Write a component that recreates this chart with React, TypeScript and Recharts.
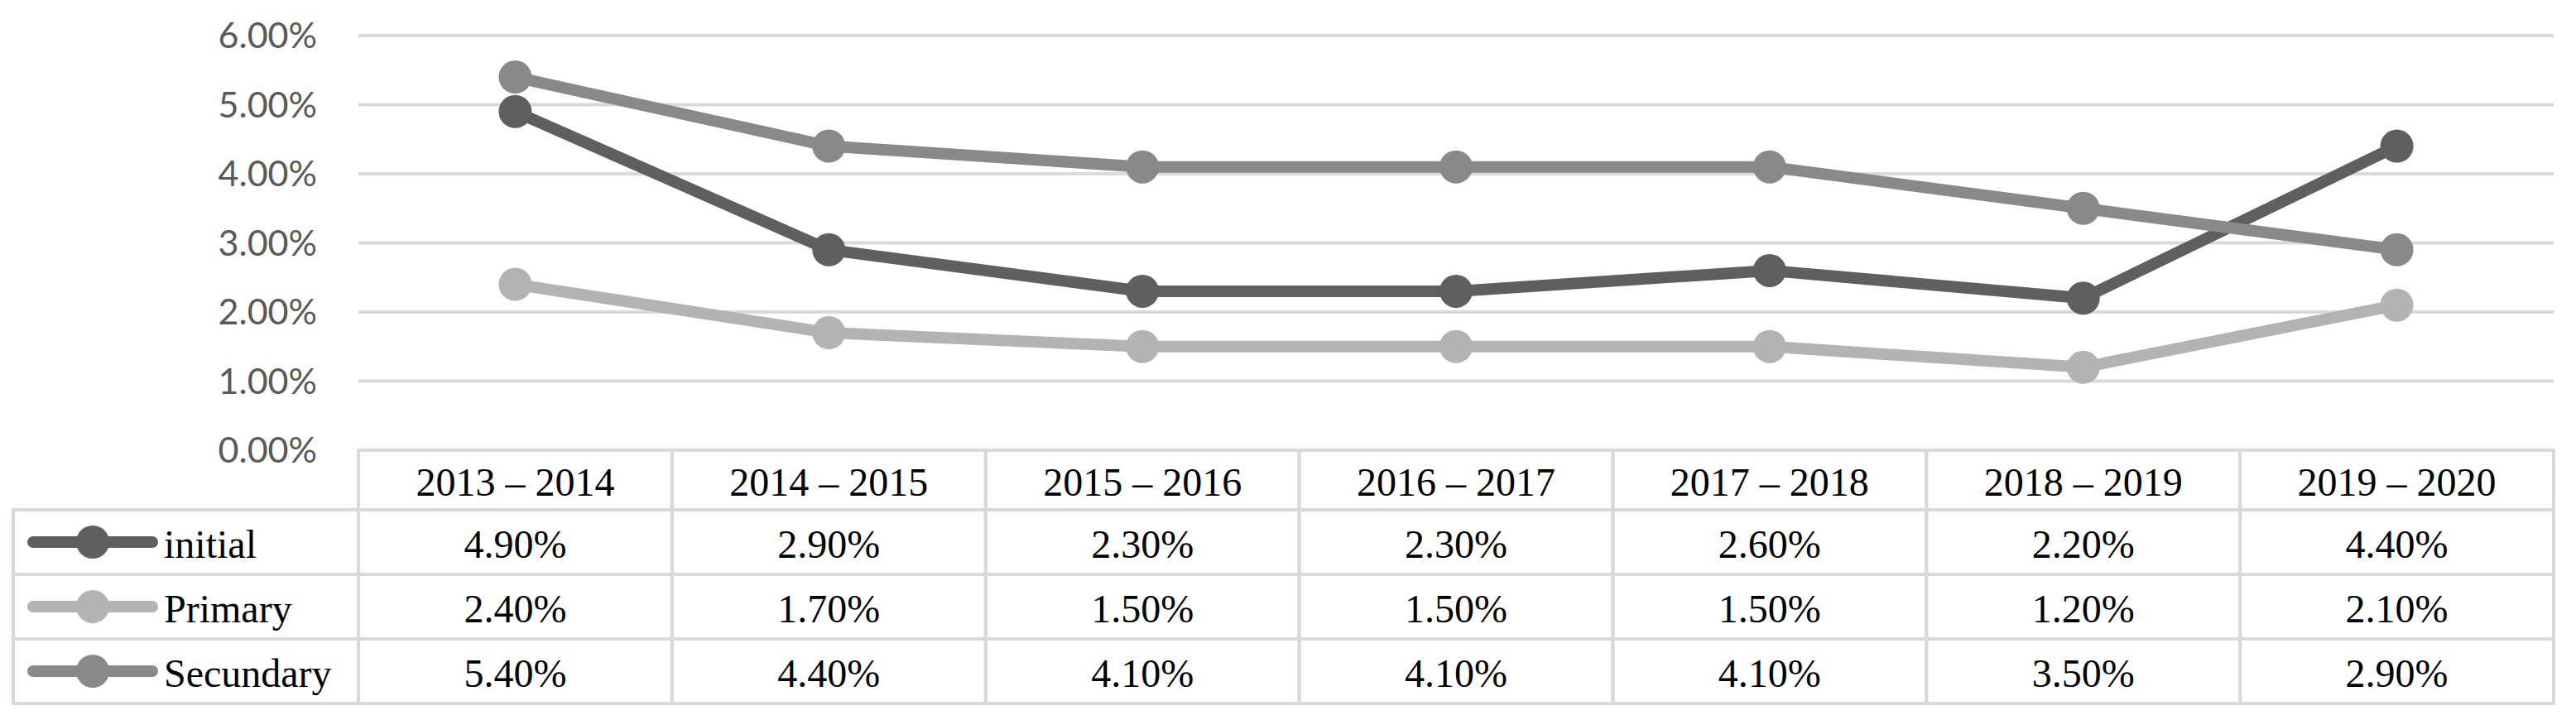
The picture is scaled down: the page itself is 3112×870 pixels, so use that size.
import { ComposedChart, Line, XAxis, YAxis, CartesianGrid } from 'recharts'

const periods = ['2013 – 2014', '2014 – 2015', '2015 – 2016', '2016 – 2017', '2017 – 2018', '2018 – 2019', '2019 – 2020']
const initialValues = [4.9, 2.9, 2.3, 2.3, 2.6, 2.2, 4.4]
const primaryValues = [2.4, 1.7, 1.5, 1.5, 1.5, 1.2, 2.1]
const secundaryValues = [5.4, 4.4, 4.1, 4.1, 4.1, 3.5, 2.9]
const yTicks = [0, 1, 2, 3, 4, 5, 6]

const series = [
  { key: 'initial', name: 'initial', color: '#5f5f5f', values: initialValues },
  { key: 'primary', name: 'Primary', color: '#b3b3b3', values: primaryValues },
  { key: 'secundary', name: 'Secundary', color: '#898989', values: secundaryValues },
]

const data = periods.map((period, i) => ({
  period,
  initial: initialValues[i],
  primary: primaryValues[i],
  secundary: secundaryValues[i],
}))

const W = 3112
const H = 870
const PLOT_LEFT = 433
const PLOT_RIGHT = 3085
const COL_W = (PLOT_RIGHT - PLOT_LEFT) / periods.length
const HEAD_H = 72
const ROW_H = 78
const LEGEND_LEFT = 16
const BORDER = '#d9d9d9'
const SERIF = '"Liberation Serif", "Times New Roman", serif'
const FONT_SIZE = 48
const LINE_W = 14
const DOT_R = 20

const fmt = (v: number) => `${v.toFixed(2)}%`

function HeaderTick({ x, y, payload }: any) {
  return (
    <g>
      <rect x={x - COL_W / 2} y={y} width={COL_W} height={HEAD_H} fill="none" stroke={BORDER} strokeWidth={4} />
      <text x={x} y={y + HEAD_H / 2 + 2} textAnchor="middle" dominantBaseline="central"
        fontFamily={SERIF} fontSize={FONT_SIZE} fill="#000">
        {payload.value}
      </text>
    </g>
  )
}

function makeRowTick(s: (typeof series)[number]) {
  return function RowTick({ x, y, payload }: any) {
    const cy = y + ROW_H / 2
    const legendW = x - COL_W / 2 - LEGEND_LEFT
    return (
      <g>
        {payload.index === 0 && (
          <g>
            <rect x={LEGEND_LEFT} y={y} width={legendW} height={ROW_H} fill="none" stroke={BORDER} strokeWidth={4} />
            <line x1={LEGEND_LEFT + 24} x2={LEGEND_LEFT + 168} y1={cy} y2={cy} stroke={s.color} strokeWidth={LINE_W} strokeLinecap="round" />
            <circle cx={LEGEND_LEFT + 96} cy={cy} r={DOT_R} fill={s.color} />
            <text x={LEGEND_LEFT + 182} y={cy + 2} dominantBaseline="central" fontFamily={SERIF} fontSize={FONT_SIZE} fill="#000">
              {s.name}
            </text>
          </g>
        )}
        <rect x={x - COL_W / 2} y={y} width={COL_W} height={ROW_H} fill="none" stroke={BORDER} strokeWidth={4} />
        <text x={x} y={cy + 2} textAnchor="middle" dominantBaseline="central"
          fontFamily={SERIF} fontSize={FONT_SIZE} fill="#000">
          {fmt(s.values[payload.index])}
        </text>
      </g>
    )
  }
}

export default function App() {
  return (
    <div style={{ position: 'absolute', left: 0, top: 0, width: W, height: H, background: '#fff' }}>
      <ComposedChart width={W} height={H} data={data} margin={{ top: 43, right: W - PLOT_RIGHT, bottom: 20, left: 0 }}>
        <CartesianGrid vertical={false} stroke="#d9d9d9" strokeWidth={4} />
        <XAxis xAxisId="head" dataKey="period" scale="band" height={HEAD_H} tickSize={0} tickMargin={0}
          tickLine={false} axisLine={false} interval={0} tick={<HeaderTick />} />
        {series.map((s) => {
          const RowTick = makeRowTick(s)
          return (
            <XAxis key={s.key} xAxisId={s.key} dataKey="period" scale="band" height={ROW_H} tickSize={0} tickMargin={0}
              tickLine={false} axisLine={false} interval={0} tick={<RowTick />} />
          )
        })}
        <YAxis width={PLOT_LEFT} domain={[0, 6]} ticks={yTicks} tickFormatter={fmt} axisLine={false} tickLine={false}
          tickSize={0} tickMargin={50} tick={{ fill: '#595959', fontSize: 43, fontFamily: 'Lato, "Open Sans", sans-serif' }} />
        {series.map((s) => (
          <Line key={s.key} xAxisId="head" dataKey={s.key} name={s.name} stroke={s.color} strokeWidth={LINE_W}
            dot={{ r: DOT_R, fill: s.color, stroke: 'none' }} activeDot={false} isAnimationActive={false} />
        ))}
      </ComposedChart>
    </div>
  )
}
